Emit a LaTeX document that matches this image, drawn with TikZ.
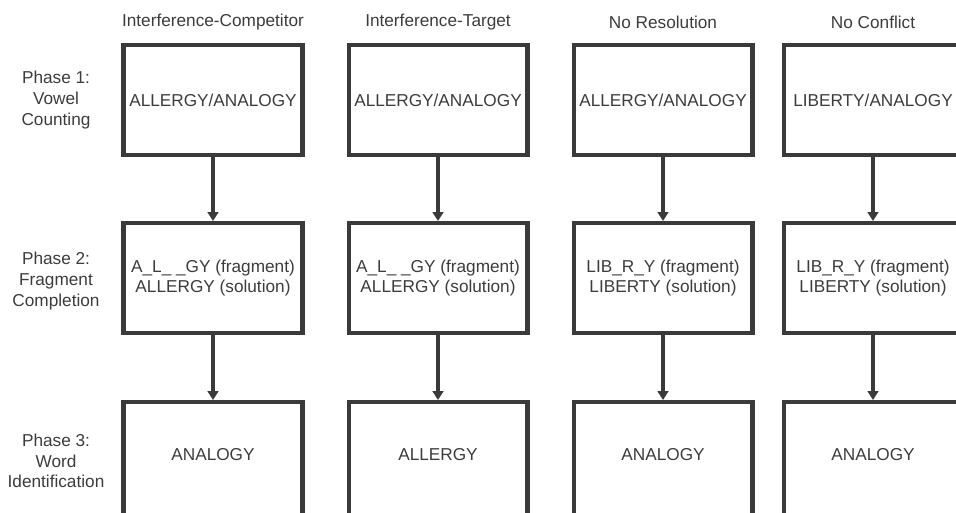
\documentclass[tikz,border=0pt]{standalone}
\usepackage{fontspec}
\setmainfont{Liberation Sans}
\usetikzlibrary{arrows.meta,positioning}
\definecolor{boxgray}{HTML}{3A3A3A}
\definecolor{textgray}{HTML}{3C3C3C}

\begin{document}
\begin{tikzpicture}[x=0.02cm,y=-0.02cm,
  lbl/.style={align=center, text=textgray, inner sep=0pt, font=\fontsize{9.8}{11.8}\selectfont},
  phasebox/.style={lbl, draw=boxgray, line width=2.3pt, minimum width=3.58cm, minimum height=2.2cm},
  flow/.style={draw=boxgray, line width=2pt, -{Triangle[length=5pt,width=6pt]}}]
% frame of the page (boxes are cut at the right and bottom)
\useasboundingbox (0,0) rectangle (956,512);
\clip (0,0) rectangle (956,512);
% phase labels
\node[lbl] (ph1) at (56,100) {Phase 1:\\Vowel\\Counting};
\node[lbl] (ph2) at (56,281) {Phase 2:\\Fragment\\Completion};
\node[lbl] (ph3) at (56,461) {Phase 3:\\Word\\Identification};
% one column per condition
\foreach \c/\x/\head/\ta/\tb/\tc in {
  1/213/Interference-Competitor/{ALLERGY/ANALOGY}/{A\_L\_ \_GY (fragment)\\ALLERGY (solution)}/ANALOGY,
  2/438/Interference-Target/{ALLERGY/ANALOGY}/{A\_L\_ \_GY (fragment)\\ALLERGY (solution)}/ALLERGY,
  3/663/No Resolution/{ALLERGY/ANALOGY}/{LIB\_R\_Y (fragment)\\LIBERTY (solution)}/ANALOGY,
  4/873/No Conflict/{LIBERTY/ANALOGY}/{LIB\_R\_Y (fragment)\\LIBERTY (solution)}/ANALOGY} {
  \node[lbl] (head\c) at (\x,22) {\head};
  \node[phasebox] (vc\c) at (\x,100) {\ta};
  \node[phasebox] (fc\c) at (\x,278) {\tb};
  \node[phasebox, minimum height=2.36cm, text depth=0.25cm] (wi\c) at (\x,461) {\tc};
  % phase to phase
  \draw[flow] (vc\c) -- (fc\c);
  \draw[flow] (fc\c) -- (wi\c);
}
\end{tikzpicture}
\end{document}
